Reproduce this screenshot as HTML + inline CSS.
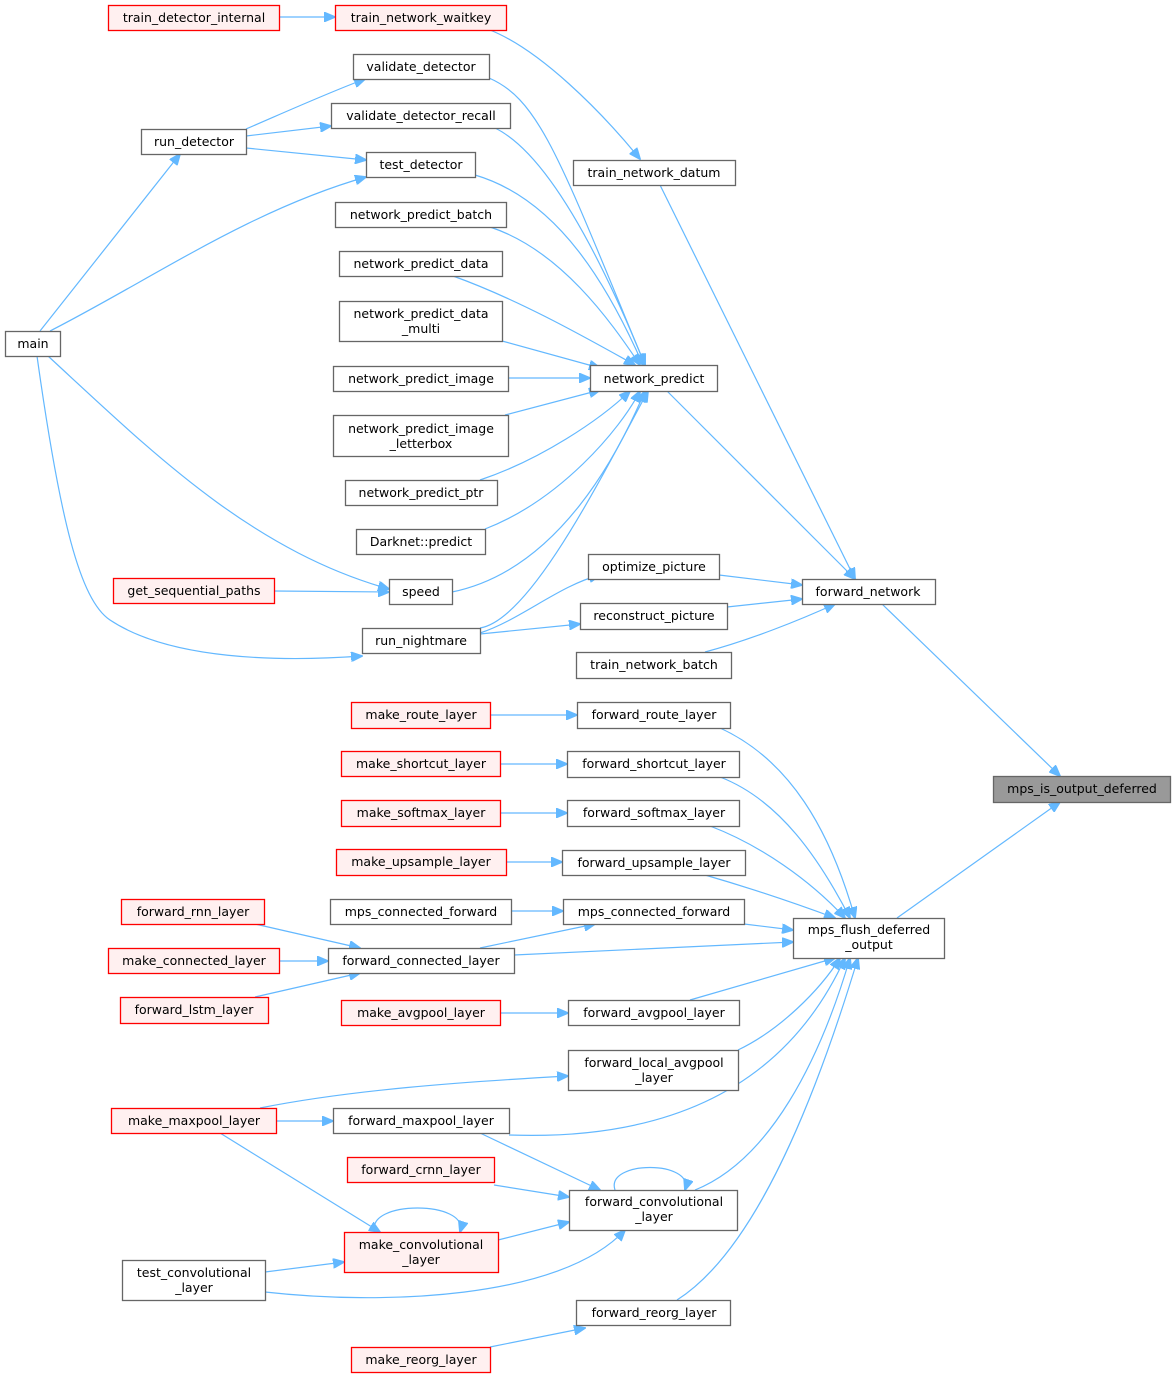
<!DOCTYPE html>
<html><head><meta charset="utf-8"><style>
html,body{margin:0;padding:0;background:#fff;}
svg text{font-family:"DejaVu Sans","Liberation Sans",sans-serif;font-size:12.5px;fill:#000;text-anchor:middle;}
.n{fill:#fff;stroke:#666;stroke-width:1.3;}
.r{fill:#fff0f0;stroke:#f00;stroke-width:1.3;}
.g{fill:#999;stroke:#666;stroke-width:1.3;}
path.e{fill:none;stroke:#63b8ff;stroke-width:1.2;marker-end:url(#a);}
</style></head><body>
<svg width="1176" height="1379" viewBox="0 0 1176 1379" xmlns="http://www.w3.org/2000/svg">
<defs><marker id="a" markerWidth="12" markerHeight="10" refX="11" refY="5" orient="auto" markerUnits="userSpaceOnUse"><path d="M0,0 L12,5 L0,10 z" fill="#63b8ff" stroke="#63b8ff"/></marker></defs>
<g>
<path class="e" d="M279,17 L335,17"/>
<path class="e" d="M490,30 C540,50 600,110 640,159"/>
<path class="e" d="M489,78 C540,100 560,160 645,365"/>
<path class="e" d="M495,128 C540,150 590,230 645,365"/>
<path class="e" d="M475,175 C560,200 610,290 643,365"/>
<path class="e" d="M490,227 C560,250 610,320 640,365"/>
<path class="e" d="M453,276 C520,300 590,340 635,365"/>
<path class="e" d="M502,341 L600,368"/>
<path class="e" d="M508,378 L590,378"/>
<path class="e" d="M505,415 L600,390"/>
<path class="e" d="M480,480 C540,460 600,420 630,391"/>
<path class="e" d="M485,529 C560,500 620,430 640,391"/>
<path class="e" d="M452,592 C560,570 620,450 645,391"/>
<path class="e" d="M480,628 C530,620 600,480 648,391"/>
<path class="e" d="M480,633 C520,620 560,585 600,575"/>
<path class="e" d="M480,634 L580,624"/>
<path class="e" d="M246,129 C290,110 330,92 365,79"/>
<path class="e" d="M246,136 L331,126"/>
<path class="e" d="M246,148 L366,160"/>
<path class="e" d="M40,331 L180,154"/>
<path class="e" d="M50,331 C150,280 250,210 366,177"/>
<path class="e" d="M48,356 C150,450 250,550 389,589"/>
<path class="e" d="M274,591 L389,592"/>
<path class="e" d="M37,356 C60,520 80,600 110,620 C170,660 280,662 362,656"/>
<path class="e" d="M667,391 L855,579"/>
<path class="e" d="M660,185 L855,579"/>
<path class="e" d="M719,575 L802,585"/>
<path class="e" d="M727,607 L802,599"/>
<path class="e" d="M705,652 C750,640 800,620 835,604"/>
<path class="e" d="M882,604 L1060,776"/>
<path class="e" d="M897,918 L1060,802"/>
<path class="e" d="M490,715 L577,715"/>
<path class="e" d="M500,764 L567,764"/>
<path class="e" d="M500,813 L567,813"/>
<path class="e" d="M506,862 L562,862"/>
<path class="e" d="M511,911 L563,911"/>
<path class="e" d="M720,728 C790,760 830,830 855,918"/>
<path class="e" d="M720,777 C780,800 820,860 850,918"/>
<path class="e" d="M710,826 C760,845 810,880 845,918"/>
<path class="e" d="M705,875 C750,888 800,905 835,918"/>
<path class="e" d="M744,924 L793,930"/>
<path class="e" d="M514,955 L793,942"/>
<path class="e" d="M480,948 L595,924"/>
<path class="e" d="M255,924 L360,948"/>
<path class="e" d="M279,961 L328,961"/>
<path class="e" d="M255,997 L360,973"/>
<path class="e" d="M500,1013 L568,1013"/>
<path class="e" d="M690,1000 L835,958"/>
<path class="e" d="M738,1050 C780,1030 820,990 840,958"/>
<path class="e" d="M260,1108 C350,1090 460,1082 568,1076"/>
<path class="e" d="M276,1121 L333,1121"/>
<path class="e" d="M509,1135 C650,1140 780,1100 845,958"/>
<path class="e" d="M480,1133 L600,1190"/>
<path class="e" d="M494,1185 L569,1197"/>
<path class="e" d="M498,1240 L569,1222"/>
<path class="e" d="M695,1190 C770,1160 820,1060 850,958"/>
<path class="e" d="M615,1190 C605,1160 695,1160 685,1190"/>
<path class="e" d="M220,1133 L380,1232"/>
<path class="e" d="M375,1232 C365,1200 470,1200 460,1232"/>
<path class="e" d="M265,1272 L344,1262"/>
<path class="e" d="M265,1292 C380,1305 560,1300 625,1230"/>
<path class="e" d="M677,1300 C740,1260 800,1150 858,958"/>
<path class="e" d="M490,1347 L585,1328"/>
</g>
<g>
<rect class="r" x="108.5" y="5.5" width="171" height="25"/><text x="194" y="22">train_detector_internal</text>
<rect class="r" x="335.5" y="5.5" width="171" height="25"/><text x="421" y="22">train_network_waitkey</text>
<rect class="n" x="353.5" y="54.5" width="136" height="25"/><text x="421" y="71">validate_detector</text>
<rect class="n" x="331.5" y="103.5" width="179" height="25"/><text x="421" y="120">validate_detector_recall</text>
<rect class="n" x="141.5" y="129.5" width="105" height="25"/><text x="194" y="146">run_detector</text>
<rect class="n" x="366.5" y="152.5" width="109" height="25"/><text x="421" y="169">test_detector</text>
<rect class="n" x="335.5" y="202.5" width="171" height="25"/><text x="421" y="219">network_predict_batch</text>
<rect class="n" x="339.5" y="251.5" width="163" height="25"/><text x="421" y="268">network_predict_data</text>
<rect class="n" x="339.5" y="301.5" width="163" height="40"/><text x="421" y="318">network_predict_data</text><text x="421" y="333">_multi</text>
<rect class="n" x="5.5" y="331.5" width="55" height="25"/><text x="33" y="348">main</text>
<rect class="n" x="333.5" y="366.5" width="175" height="25"/><text x="421" y="383">network_predict_image</text>
<rect class="n" x="333.5" y="415.5" width="175" height="41"/><text x="421" y="433">network_predict_image</text><text x="421" y="448">_letterbox</text>
<rect class="n" x="345.5" y="480.5" width="152" height="25"/><text x="421" y="497">network_predict_ptr</text>
<rect class="n" x="356.5" y="529.5" width="129" height="25"/><text x="421" y="546">Darknet::predict</text>
<rect class="n" x="590.5" y="365.5" width="127" height="26"/><text x="654" y="383">network_predict</text>
<rect class="n" x="573.5" y="160.5" width="162" height="25"/><text x="654" y="177">train_network_datum</text>
<rect class="n" x="588.5" y="554.5" width="131" height="25"/><text x="654" y="571">optimize_picture</text>
<rect class="r" x="113.5" y="578.5" width="161" height="25"/><text x="194" y="595">get_sequential_paths</text>
<rect class="n" x="389.5" y="579.5" width="63" height="25"/><text x="421" y="596">speed</text>
<rect class="n" x="802.5" y="579.5" width="133" height="25"/><text x="868" y="596">forward_network</text>
<rect class="n" x="580.5" y="603.5" width="147" height="26"/><text x="654" y="620">reconstruct_picture</text>
<rect class="n" x="362.5" y="628.5" width="118" height="25"/><text x="421" y="645">run_nightmare</text>
<rect class="n" x="576.5" y="652.5" width="155" height="26"/><text x="654" y="669">train_network_batch</text>
<rect class="n" x="577.5" y="702.5" width="153" height="26"/><text x="654" y="719">forward_route_layer</text>
<rect class="r" x="351.5" y="702.5" width="139" height="26"/><text x="421" y="719">make_route_layer</text>
<rect class="r" x="341.5" y="751.5" width="159" height="25"/><text x="421" y="768">make_shortcut_layer</text>
<rect class="n" x="567.5" y="751.5" width="172" height="26"/><text x="654" y="768">forward_shortcut_layer</text>
<rect class="g" x="993.5" y="776.5" width="177" height="26"/><text x="1082" y="793">mps_is_output_deferred</text>
<rect class="r" x="341.5" y="800.5" width="159" height="26"/><text x="421" y="817">make_softmax_layer</text>
<rect class="n" x="567.5" y="800.5" width="172" height="26"/><text x="654" y="817">forward_softmax_layer</text>
<rect class="r" x="336.5" y="849.5" width="170" height="26"/><text x="421" y="866">make_upsample_layer</text>
<rect class="n" x="562.5" y="850.5" width="183" height="25"/><text x="654" y="867">forward_upsample_layer</text>
<rect class="r" x="121.5" y="899.5" width="143" height="25"/><text x="193" y="916">forward_rnn_layer</text>
<rect class="n" x="330.5" y="899.5" width="181" height="25"/><text x="421" y="916">mps_connected_forward</text>
<rect class="n" x="563.5" y="899.5" width="181" height="25"/><text x="654" y="916">mps_connected_forward</text>
<rect class="n" x="793.5" y="918.5" width="151" height="40"/><text x="869" y="934">mps_flush_deferred</text><text x="869" y="949">_output</text>
<rect class="r" x="108.5" y="948.5" width="171" height="25"/><text x="194" y="965">make_connected_layer</text>
<rect class="n" x="328.5" y="948.5" width="186" height="25"/><text x="421" y="965">forward_connected_layer</text>
<rect class="r" x="120.5" y="997.5" width="148" height="26"/><text x="194" y="1014">forward_lstm_layer</text>
<rect class="r" x="341.5" y="1000.5" width="159" height="25"/><text x="421" y="1017">make_avgpool_layer</text>
<rect class="n" x="568.5" y="1000.5" width="171" height="25"/><text x="654" y="1017">forward_avgpool_layer</text>
<rect class="n" x="568.5" y="1050.5" width="170" height="40"/><text x="654" y="1067">forward_local_avgpool</text><text x="654" y="1082">_layer</text>
<rect class="r" x="111.5" y="1108.5" width="165" height="25"/><text x="194" y="1125">make_maxpool_layer</text>
<rect class="n" x="333.5" y="1108.5" width="176" height="25"/><text x="421" y="1125">forward_maxpool_layer</text>
<rect class="r" x="347.5" y="1157.5" width="147" height="25"/><text x="421" y="1174">forward_crnn_layer</text>
<rect class="n" x="569.5" y="1190.5" width="168" height="40"/><text x="654" y="1206">forward_convolutional</text><text x="654" y="1221">_layer</text>
<rect class="r" x="344.5" y="1232.5" width="154" height="40"/><text x="421" y="1249">make_convolutional</text><text x="421" y="1264">_layer</text>
<rect class="n" x="122.5" y="1260.5" width="143" height="40"/><text x="194" y="1277">test_convolutional</text><text x="194" y="1292">_layer</text>
<rect class="n" x="576.5" y="1300.5" width="154" height="25"/><text x="654" y="1317">forward_reorg_layer</text>
<rect class="r" x="351.5" y="1347.5" width="139" height="25"/><text x="421" y="1364">make_reorg_layer</text>
</g>
</svg>
</body></html>
